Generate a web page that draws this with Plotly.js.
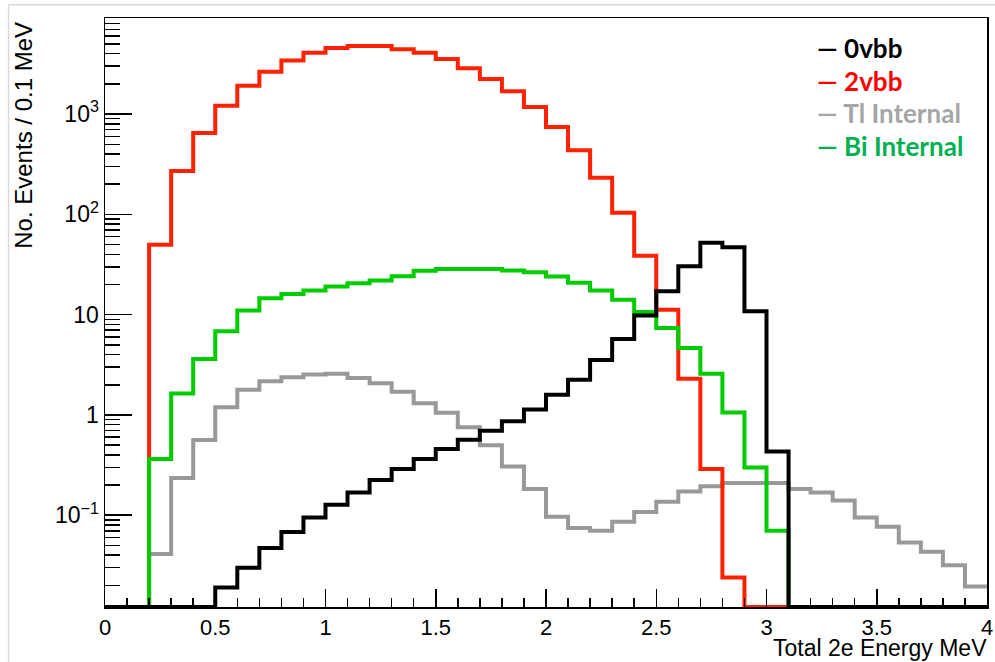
<!DOCTYPE html>
<html><head><meta charset="utf-8">
<script src="https://cdn.plot.ly/plotly-3.0.1.min.js"></script>
<style>html,body{margin:0;padding:0;background:#fff}#chart{width:995px;height:662px}</style>
</head><body><div id="chart"></div>
<script>
// Bin left edges (width 0.1 MeV), 0 .. 4.0
const binEdges = [0,0.1,0.2,0.3,0.4,0.5,0.6,0.7,0.8,0.9,1.0,1.1,1.2,1.3,1.4,1.5,1.6,1.7,1.8,1.9,2.0,2.1,2.2,2.3,2.4,2.5,2.6,2.7,2.8,2.9,3.0,3.1,3.2,3.3,3.4,3.5,3.6,3.7,3.8,3.9,4.0];

const zeroVbb = [0,0,0,0,0,0.019,0.030,0.047,0.068,0.095,0.127,0.169,0.224,0.289,0.364,0.458,0.567,0.697,0.863,1.13,1.59,2.24,3.54,5.73,9.8,17.1,30.4,52.1,47.1,10.8,0.433,0,0,0,0,0,0,0,0,0];
const twoVbb = [0,0,49.8,270,646,1213,1920,2650,3414,4100,4560,4775,4775,4425,4100,3540,2858,2235,1686,1175,742,437,232,104,38.6,11.2,2.29,0.289,0.0239,0,0,0,0,0,0,0,0,0,0,0];
const tlInternal = [0,0,0.041,0.235,0.563,1.19,1.78,2.17,2.38,2.53,2.57,2.34,2.07,1.70,1.31,1.05,0.752,0.50,0.307,0.183,0.0966,0.0745,0.070,0.0861,0.108,0.136,0.172,0.194,0.209,0.209,0.209,0.183,0.169,0.140,0.095,0.0768,0.0536,0.0432,0.0318,0.0195];
const biInternal = [0,0,0.364,1.64,3.62,6.83,11.0,14.6,16.1,17.4,19.1,20.6,21.9,24.2,27.4,28.6,28.6,28.6,27.5,26.5,24.0,20.8,17.4,14.1,10.6,7.38,4.66,2.57,1.06,0.30,0.070,0,0,0,0,0,0,0,0,0];

const seriesNames = ['0vbb','2vbb','Tl Internal','Bi Internal'];
const yTickVals = [0.1,1,10,100,1000];
const yTickText = ['10<sup>\u22121</sup>','1','10','10<sup>2</sup>','10<sup>3</sup>'];
const xTitle = 'Total 2e Energy MeV';
const yTitle = 'No. Events / 0.1 MeV';

const yMin = 0.01216, yMax = 9080;

function hist(vals, color, name){
  // empty bins are drawn on the bottom of the frame (ROOT style)
  const y = vals.map(v => v > 0 ? v : yMin);
  y.push(y[y.length-1]);
  return {type:'scatter', mode:'lines', x: binEdges, y: y, name: name,
    line:{shape:'hv', color: color, width: 4}, showlegend:false, hoverinfo:'x+y'};
}

const traces = [
  hist(tlInternal, '#999999', seriesNames[2]),
  hist(twoVbb, '#ff2200', seriesNames[1]),
  hist(biInternal, '#00cc00', seriesNames[3]),
  hist(zeroVbb, '#000000', seriesNames[0])
];

const L = 104.5, R = 987, T = 18.3, B = 606.7;
const px = v => (v - L) / (R - L);
const py = v => (B - v) / (B - T);

const legendColors = ['#000000','#ff0000','#a6a6a6','#00b050'];
const legendY = [48, 81, 113, 146];
const annotations = seriesNames.map((n,i) => ({
  xref:'paper', yref:'paper', x: px(815), y: py(legendY[i]), xanchor:'left', yanchor:'middle',
  showarrow:false, text: '<b>\u2014 ' + n + '</b>',
  font:{family:'Lato, "Open Sans", sans-serif', size:26, color: legendColors[i]}
}));
annotations.push({xref:'paper', yref:'paper', x: 1.002, y: py(648), xanchor:'right', yanchor:'middle',
  showarrow:false, text: xTitle, font:{family:'"Liberation Sans", Arial, sans-serif', size:23, color:'#000'}});
annotations.push({xref:'paper', yref:'paper', x: px(23), y: py(20), xanchor:'center', yanchor:'top', textangle:-90,
  showarrow:false, text: yTitle, font:{family:'"Liberation Sans", Arial, sans-serif', size:24, color:'#000'}});

const layout = {
  width: 995, height: 662,
  margin: {l: L, r: 995 - R, t: T, b: 662 - B},
  paper_bgcolor:'#ffffff', plot_bgcolor:'#ffffff',
  font:{family:'"Liberation Sans", Arial, sans-serif', size:23, color:'#000'},
  showlegend:false,
  xaxis:{range:[0,4], dtick:0.5, tick0:0, ticks:'inside', ticklen:18, tickwidth:1.5, tickcolor:'#000',
    tickfont:{size:22},
    showline:true, linecolor:'#000', linewidth:1.5, mirror:true, showgrid:false, zeroline:false,
    minor:{dtick:0.1, ticks:'inside', ticklen:9, tickwidth:1.5, tickcolor:'#000', showgrid:false}},
  yaxis:{type:'log', range:[Math.log10(yMin), Math.log10(yMax)], tickmode:'array', tickvals: yTickVals, ticktext: yTickText,
    ticks:'inside', ticklen:27, tickwidth:1.5, tickcolor:'#000',
    showline:true, linecolor:'#000', linewidth:1.5, mirror:true, showgrid:false, zeroline:false,
    minor:{dtick:'D1', ticks:'inside', ticklen:15, tickwidth:1.5, tickcolor:'#000', showgrid:false}},
  annotations: annotations,
  shapes:[
    {type:'line', xref:'paper', yref:'paper', x0: px(8), x1: px(8), y0: py(5), y1: py(662), line:{color:'#d9d9d9', width:1.5}},
    {type:'line', xref:'paper', yref:'paper', x0: px(8), x1: px(995), y0: py(5), y1: py(5), line:{color:'#d9d9d9', width:1.5}}
  ]
};

Plotly.newPlot('chart', traces, layout, {displayModeBar:false, staticPlot:true});
</script></body></html>
